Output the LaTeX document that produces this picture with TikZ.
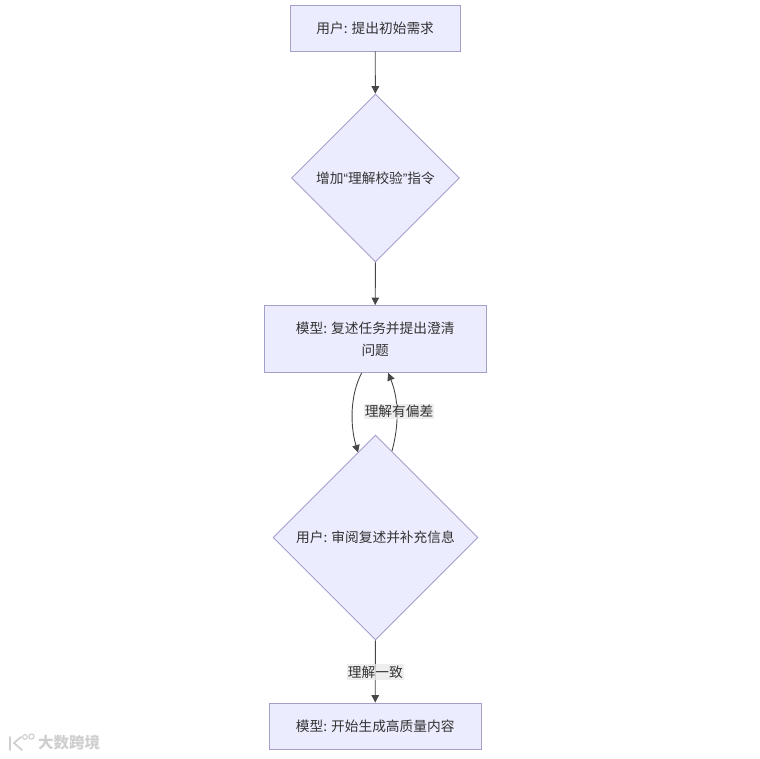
\documentclass[tikz,border=0pt]{standalone}
\usepackage{fontspec}
\setmainfont{Noto Sans CJK SC}[Scale=1]
\newfontfamily\quotefont{Liberation Sans}
\usetikzlibrary{shapes.geometric,arrows.meta,calc}
\definecolor{nodefill}{HTML}{ECECFF}
\definecolor{nodeline}{HTML}{A59FCB}
\definecolor{inkc}{HTML}{333333}
\definecolor{labelbg}{HTML}{E8E8E8}
\definecolor{wm}{HTML}{CFCFCF}
\tikzset{
  x=1pt,y=-1pt,
  base/.style={draw=nodeline,fill=nodefill,line width=0.9pt,text=inkc,font=\fontsize{13.7}{22}\selectfont,inner sep=0pt,align=center},
  boxn/.style={base,rectangle},
  dia/.style={base,diamond,aspect=1},
  conn/.style={draw=inkc!90,line width=0.9pt,-{Triangle[length=7.5pt,width=7.5pt]}},
  elabel/.style={fill=labelbg,fill opacity=0.75,text opacity=1,text=inkc,font=\fontsize{13.7}{16}\selectfont,inner sep=1.2pt},
}
\begin{document}
\begin{tikzpicture}
\useasboundingbox (0,0) rectangle (760,758);
\node[boxn,minimum width=169.5pt,minimum height=46pt] (n1) at (375.2,28) {用户: 提出初始需求};
\node[dia,minimum width=168pt,minimum height=168pt] (n2) at (375.5,178) {增加{\quotefont “}理解校验{\quotefont ”}指令};
\node[boxn,minimum width=221.5pt,minimum height=67pt] (n3) at (375.2,339) {模型: 复述任务并提出澄清\\问题};
\node[dia,minimum width=205pt,minimum height=205pt] (n4) at (375.5,537.5) {用户: 审阅复述并补充信息};
\node[boxn,minimum width=211.5pt,minimum height=46.5pt] (n5) at (375.2,726.3) {模型: 开始生成高质量内容};
\coordinate (c3a) at ($(n3.south)+(-13.5,0)$);
\coordinate (c3b) at ($(n3.south)+(13,0)$);
\coordinate (c4a) at (358,452.5);
\coordinate (c4b) at (392,451);
\draw[conn] (n1) -- (n2);
\draw[conn] (n2) -- (n3);
\draw[conn] (c3a) .. controls (350,395) and (350,425) .. (c4a);
\draw[conn] (c4b) .. controls (399,425) and (399,400) .. (c3b);
\draw[conn] (n4) -- (n5);
\node[elabel] (l1) at (399,411.5) {理解有偏差};
\node[elabel] (l2) at (375.3,672) {理解一致};
% watermark
\node[text=wm,font=\bfseries\fontsize{15.5}{15.5}\selectfont,inner sep=0pt,anchor=west] (wmt) at (38,743) {大数跨境};
\draw[wm,line width=1.8pt,line cap=round] (10,737) -- (10,750) (21,737) -- (14,743) -- (22,750);
\draw[wm,line width=1.1pt] (25,737) circle (2.4pt) (31.5,736.5) circle (2.6pt);
\end{tikzpicture}
\end{document}
